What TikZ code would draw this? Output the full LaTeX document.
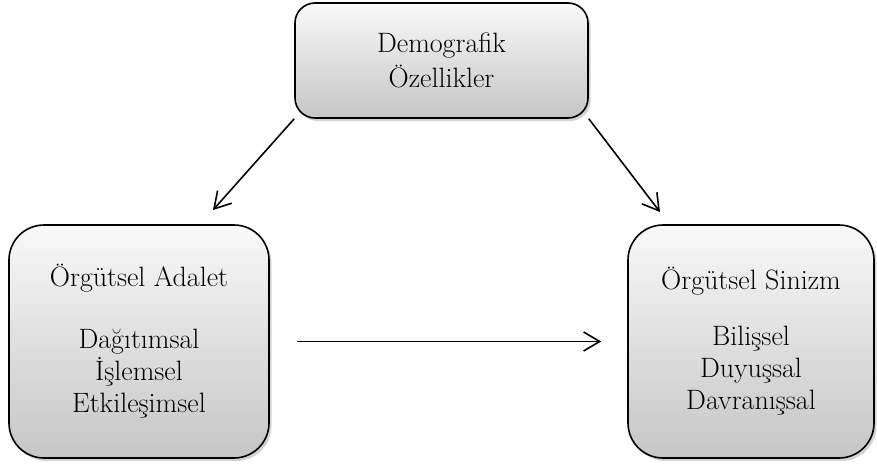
\documentclass[tikz,border=0pt]{standalone}
\usepackage{fontspec}
\usetikzlibrary{arrows.meta,shadows}

\tikzset{
  kutu/.style={draw=black, line width=1.6pt, top color=gray!5, bottom color=gray!45,
    drop shadow={shadow xshift=2.5pt, shadow yshift=-3pt, opacity=0.35},
    align=center, inner sep=0pt, font=\fontsize{28}{32}\selectfont},
  ok/.style={line width=1.6pt, -{Straight Barb[length=16pt,width=19pt,line width=1.6pt]}}
}

\begin{document}
\begin{tikzpicture}[x=1pt, y=-1pt]
  \useasboundingbox (0,0) rectangle (877,466);
  % kutular
  \node[kutu, rounded corners=20pt, minimum width=293pt, minimum height=115pt] (dem) at (441.5,60.5)
    {Demografik\\[3pt]Özellikler};
  \node[kutu, rounded corners=35pt, minimum width=260pt, minimum height=233pt] (adalet) at (139,341.5)
    {Örgütsel Adalet\\[30pt]Dağıtımsal\\İşlemsel\\Etkileşimsel};
  \node[kutu, rounded corners=35pt, minimum width=246pt, minimum height=233pt] (sinizm) at (751,341.5)
    {Örgütsel Sinizm\\[24pt]Bilişsel\\Duyuşsal\\Davranışsal};
  % oklar
  \coordinate (uclar) at (213,210);
  \coordinate (uclsag) at (660,212);
  \draw[ok] (dem.south west) -- (uclar);
  \draw[ok] (dem.south east) -- (uclsag);
  \draw[ok, shorten <=27pt, shorten >=26pt] (adalet) -- (sinizm);
\end{tikzpicture}
\end{document}
